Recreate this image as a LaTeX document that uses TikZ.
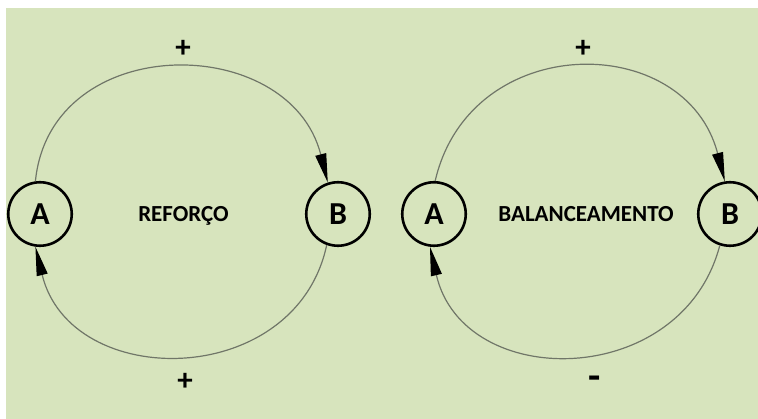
\documentclass[tikz,border=0pt]{standalone}
\usepackage{fontspec}
\setmainfont{Carlito}
\usetikzlibrary{arrows.meta}
\definecolor{bg}{HTML}{D7E4BD}
\definecolor{linkc}{RGB}{112,118,104}
\begin{document}
\begin{tikzpicture}[x=1pt,y=1pt,
  var/.style={circle,draw=black,line width=2.6pt,minimum size=63.5pt,inner sep=0pt,font=\bfseries\fontsize{32}{32}\selectfont},
  link/.style={draw=linkc,line width=1.2pt,-{Triangle[length=29pt,width=11pt,color=black]}},
  lbl/.style={font=\bfseries\fontsize{23}{23}\selectfont,anchor=base},
  sign/.style={font=\bfseries\fontsize{31}{31}\selectfont}]
\useasboundingbox (0,0) rectangle (758,-419);
\fill[white] (0,0) rectangle (758,-419);
\fill[bg] (6,-8) rectangle (758,-419);
% left loop
\node[var] (A1) at (40,-214) {A};
\node[var] (B1) at (338,-214) {B};
\node[lbl] (r) at (183.5,-222) {REFORÇO};
\draw[link] (A1.98) .. controls +(15,151) and +(-38,151) .. (B1.108);
\draw[link] (B1.250) .. controls +(-31,-145) and +(35,-145) .. (A1.262);
\node[sign] (p1) at (183,-49) {+};
\node[sign] (p3) at (185,-382) {+};
% right loop
\node[var] (A2) at (434,-214) {A};
\node[var] (B2) at (730,-214) {B};
\node[lbl] (b) at (586,-222) {BALANCEAMENTO};
\draw[link] (A2.88) .. controls +(35,151) and +(-39,151) .. (B2.99);
\draw[link] (B2.252) .. controls +(-38,-145) and +(33,-145) .. (A2.263);
\node[sign] (p2) at (583,-49) {+};
\node[sign,font=\bfseries\fontsize{40}{40}\selectfont,anchor=base] (m) at (594.5,-390) {-};
\end{tikzpicture}
\end{document}
